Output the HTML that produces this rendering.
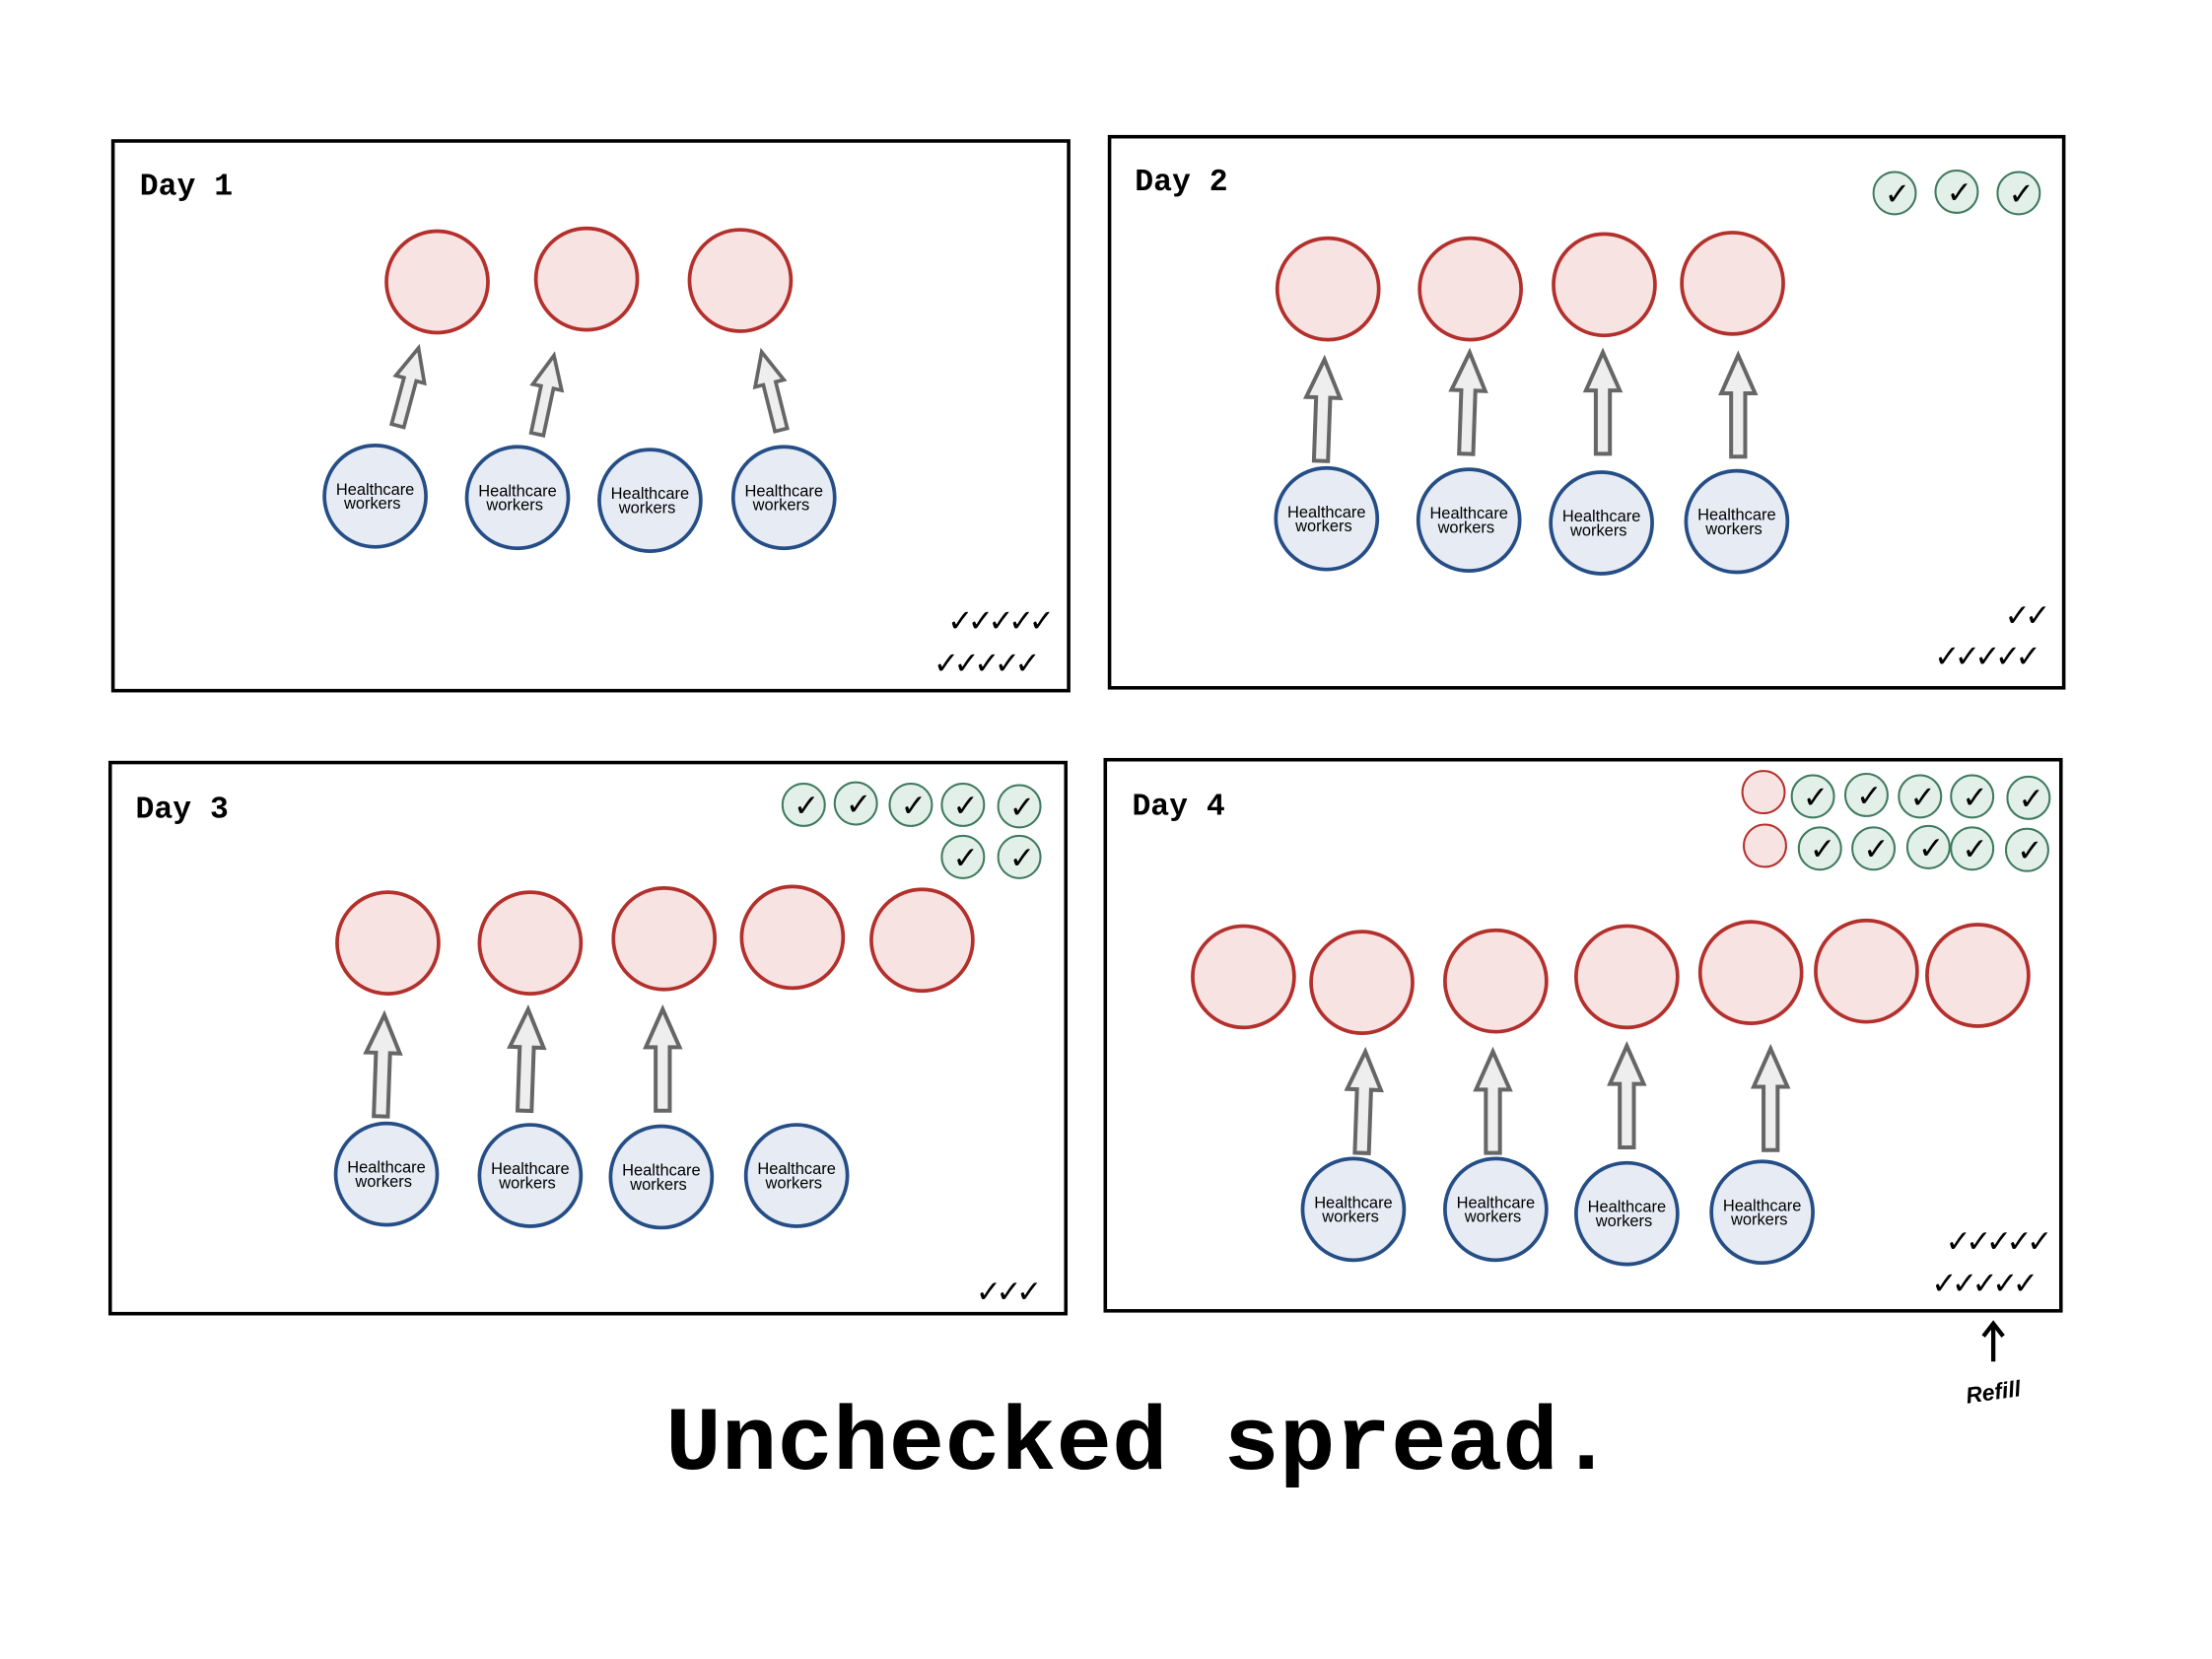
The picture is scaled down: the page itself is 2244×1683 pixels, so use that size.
<!DOCTYPE html>
<html><head><meta charset="utf-8"><style>html,body{margin:0;padding:0;background:#fff}svg{display:block}</style></head>
<body>
<svg width="2244" height="1683" viewBox="0 0 1569 1177" xmlns="http://www.w3.org/2000/svg">
<defs>
<circle id="r" r="36" fill="#f8e3e3" stroke="#b3302c" stroke-width="2.6"/>
<circle id="b" r="36" fill="#e6ebf4" stroke="#264e86" stroke-width="2.6"/>
<path id="a" d="M-5,0 L-5,-45 L-12,-45 L0,-72 L12,-45 L5,-45 L5,0 Z" fill="#eeeeee" stroke="#666" stroke-width="2.8" stroke-linejoin="miter"/>
<path id="a2" d="M-4.5,0 L-4.5,-34 L-10.5,-34 L0,-57 L10.5,-34 L4.5,-34 L4.5,0 Z" fill="#eeeeee" stroke="#666" stroke-width="2.6" stroke-linejoin="miter"/>
<circle id="c" r="15" fill="#e3efe9" stroke="#3e7a5e" stroke-width="1.4"/>
<circle id="s" r="15" fill="#f8e3e3" stroke="#b3302c" stroke-width="1.4"/>
</defs>
<g fill="none" stroke="#000" stroke-width="2.5">
<rect x="80" y="100" width="678" height="390"/>
<rect x="787" y="97" width="677" height="391"/>
<rect x="78" y="541" width="678" height="391"/>
<rect x="784" y="539" width="678" height="391"/>
</g>
<g font-family="Liberation Mono, monospace" font-weight="bold" font-size="22" fill="#000" xml:space="preserve">
<text x="99" y="138">Day 1</text>
<text x="805" y="135">Day 2</text>
<text x="96" y="580">Day 3</text>
<text x="803" y="578">Day 4</text>
</g>
<!-- Day1 -->
<use href="#r" x="310" y="200"/><use href="#r" x="416" y="198"/><use href="#r" x="525" y="199"/>
<use href="#a2" transform="translate(282,302) rotate(15)"/>
<use href="#a2" transform="translate(381,308) rotate(12)"/>
<use href="#a2" transform="translate(554,305) rotate(-14)"/>
<!-- Day2 -->
<use href="#r" x="942" y="205"/><use href="#r" x="1043" y="205"/><use href="#r" x="1138" y="202"/><use href="#r" x="1229" y="201"/>
<use href="#a" transform="translate(937,327) rotate(2)"/>
<use href="#a" transform="translate(1040,322) rotate(2)"/>
<use href="#a" transform="translate(1137,322)"/>
<use href="#a" transform="translate(1233,324)"/>
<use href="#c" x="1344" y="137"/><use href="#c" x="1388" y="136"/><use href="#c" x="1432" y="137"/>
<!-- Day3 -->
<use href="#r" x="275" y="669"/><use href="#r" x="376" y="669"/><use href="#r" x="471" y="666"/><use href="#r" x="562" y="665"/><use href="#r" x="654" y="667"/>
<use href="#a" transform="translate(270,792) rotate(2)"/>
<use href="#a" transform="translate(372,788) rotate(2)"/>
<use href="#a" transform="translate(470,788)"/>
<use href="#c" x="570" y="571"/><use href="#c" x="607" y="570"/><use href="#c" x="646" y="571"/><use href="#c" x="683" y="571"/><use href="#c" x="723" y="572"/>
<use href="#c" x="683" y="608"/><use href="#c" x="723" y="608"/>
<!-- Day4 -->
<use href="#r" x="882" y="693"/><use href="#r" x="966" y="697"/><use href="#r" x="1061" y="696"/><use href="#r" x="1154" y="693"/><use href="#r" x="1242" y="690"/><use href="#r" x="1324" y="689"/><use href="#r" x="1403" y="692"/>
<use href="#a" transform="translate(966,818) rotate(2)"/>
<use href="#a" transform="translate(1059,818)"/>
<use href="#a" transform="translate(1154,814)"/>
<use href="#a" transform="translate(1256,816)"/>
<use href="#s" x="1251" y="562"/><use href="#s" x="1252" y="600"/>
<use href="#c" x="1286" y="565"/><use href="#c" x="1324" y="564"/><use href="#c" x="1362" y="565"/><use href="#c" x="1399" y="565"/><use href="#c" x="1439" y="566"/>
<use href="#c" x="1291" y="602"/><use href="#c" x="1329" y="602"/><use href="#c" x="1368" y="601"/><use href="#c" x="1399" y="602"/><use href="#c" x="1438" y="603"/>
<g font-family="DejaVu Sans, sans-serif" font-size="22" fill="#000" text-anchor="middle">
<text x="1346" y="145">✓</text><text x="1390" y="144">✓</text><text x="1434" y="145">✓</text>
<text x="572" y="579">✓</text><text x="609" y="578">✓</text><text x="648" y="579">✓</text><text x="685" y="579">✓</text><text x="725" y="580">✓</text>
<text x="685" y="616">✓</text><text x="725" y="616">✓</text>
<text x="1288" y="573">✓</text><text x="1326" y="572">✓</text><text x="1364" y="573">✓</text><text x="1401" y="573">✓</text><text x="1441" y="574">✓</text>
<text x="1293" y="610">✓</text><text x="1331" y="610">✓</text><text x="1370" y="609">✓</text><text x="1401" y="610">✓</text><text x="1440" y="611">✓</text>
</g>
<g font-family="DejaVu Sans, sans-serif" font-size="22" fill="#000" letter-spacing="-4">
<text x="672" y="448">✓✓✓✓✓</text><text x="662" y="478">✓✓✓✓✓</text>
<text x="1422" y="444">✓✓</text><text x="1372" y="473">✓✓✓✓✓</text>
<text x="692" y="924">✓✓✓</text>
<text x="1380" y="888">✓✓✓✓✓</text><text x="1370" y="918">✓✓✓✓✓</text>
</g>
<path d="M1414,966 L1414,941 M1407,948 L1414,939 L1421,948" fill="none" stroke="#000" stroke-width="3"/>
<text x="1414" y="993" font-family="Liberation Sans, sans-serif" font-weight="bold" font-style="italic" font-size="16" text-anchor="middle" transform="rotate(-8 1414 988)">Refill</text>
<g>
<use href="#b" x="266" y="352"/><use href="#b" x="367" y="353"/><use href="#b" x="461" y="355"/><use href="#b" x="556" y="353"/>
<use href="#b" x="941" y="368"/><use href="#b" x="1042" y="369"/><use href="#b" x="1136" y="371"/><use href="#b" x="1232" y="370"/>
<use href="#b" x="274" y="833"/><use href="#b" x="376" y="834"/><use href="#b" x="469" y="835"/><use href="#b" x="565" y="834"/>
<use href="#b" x="960" y="858"/><use href="#b" x="1061" y="858"/><use href="#b" x="1154" y="861"/><use href="#b" x="1250" y="860"/>
</g>
<g font-family="Liberation Sans, sans-serif" font-size="11.5" fill="#000" text-anchor="middle">
<text x="266" y="351">Healthcare</text><text x="264" y="361">workers</text>
<text x="367" y="352">Healthcare</text><text x="365" y="362">workers</text>
<text x="461" y="354">Healthcare</text><text x="459" y="364">workers</text>
<text x="556" y="352">Healthcare</text><text x="554" y="362">workers</text>
<text x="941" y="367">Healthcare</text><text x="939" y="377">workers</text>
<text x="1042" y="368">Healthcare</text><text x="1040" y="378">workers</text>
<text x="1136" y="370">Healthcare</text><text x="1134" y="380">workers</text>
<text x="1232" y="369">Healthcare</text><text x="1230" y="379">workers</text>
<text x="274" y="832">Healthcare</text><text x="272" y="842">workers</text>
<text x="376" y="833">Healthcare</text><text x="374" y="843">workers</text>
<text x="469" y="834">Healthcare</text><text x="467" y="844">workers</text>
<text x="565" y="833">Healthcare</text><text x="563" y="843">workers</text>
<text x="960" y="857">Healthcare</text><text x="958" y="867">workers</text>
<text x="1061" y="857">Healthcare</text><text x="1059" y="867">workers</text>
<text x="1154" y="860">Healthcare</text><text x="1152" y="870">workers</text>
<text x="1250" y="859">Healthcare</text><text x="1248" y="869">workers</text>
</g>
<text x="472" y="1042" font-family="Liberation Mono, monospace" font-weight="bold" font-size="64" textLength="673" lengthAdjust="spacingAndGlyphs" fill="#000">Unchecked spread.</text>
</svg>
</body></html>
